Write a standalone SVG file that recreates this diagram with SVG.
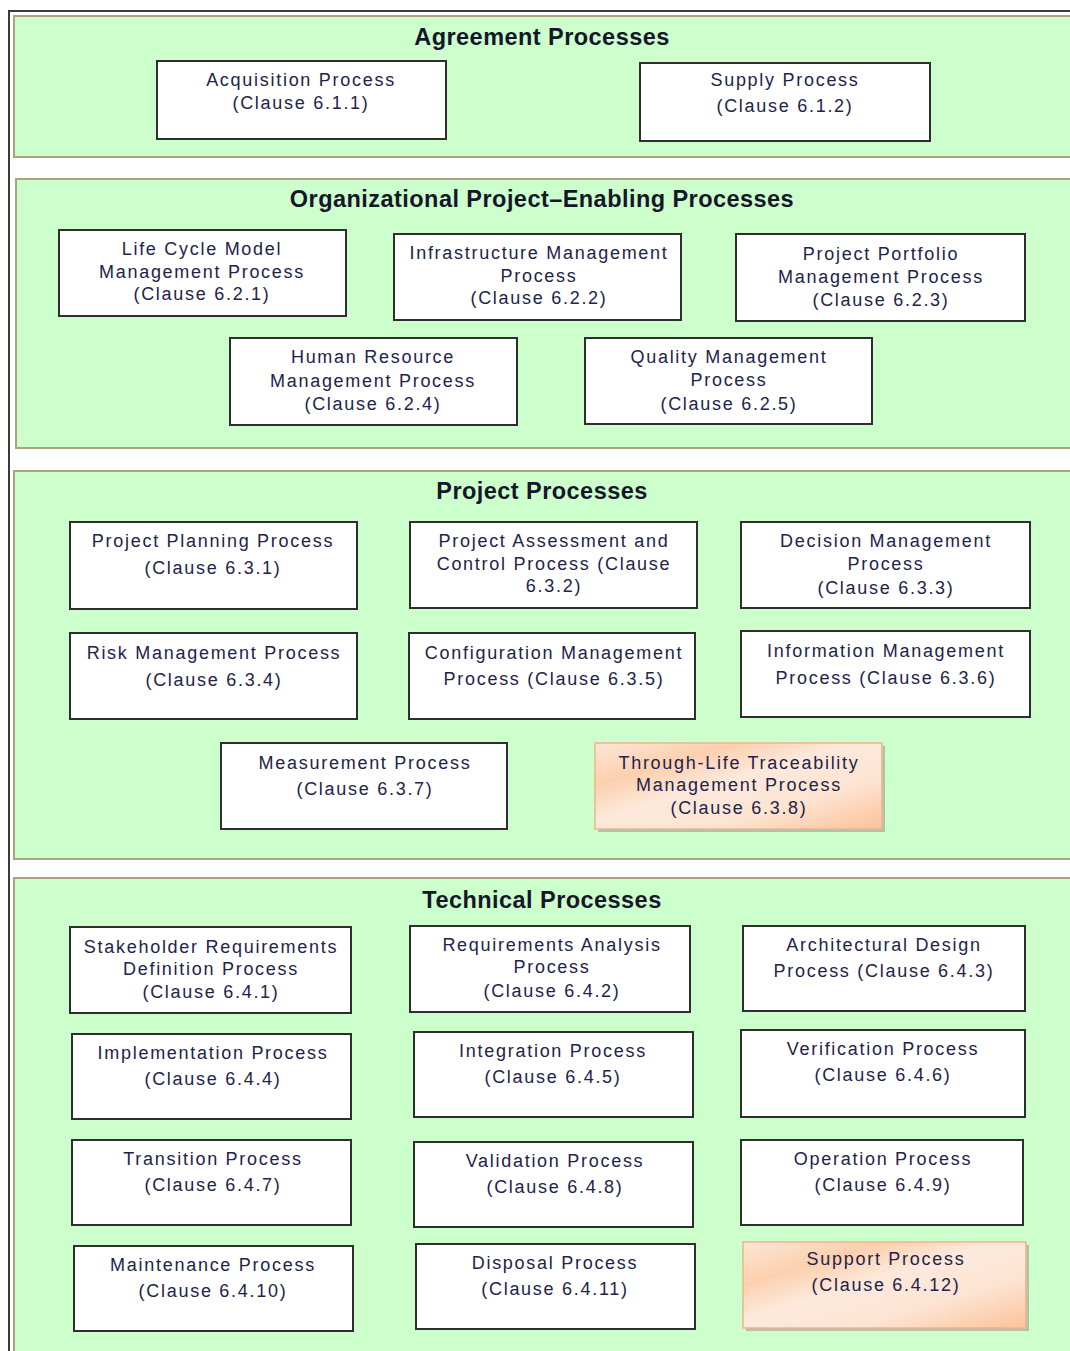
<svg xmlns="http://www.w3.org/2000/svg" width="1070" height="1351" viewBox="0 0 1070 1351">
<style>
.sec{fill:#ccffcc;stroke:#aea27c;stroke-width:2}
.box{fill:#ffffff;stroke:#2e2e2e;stroke-width:2}
.obox{fill:url(#og);stroke:#f2b487;stroke-width:1.5}
.sh{fill:#9a9a9a;opacity:0.6}
.h{font-family:"Liberation Sans",Arial,sans-serif;font-weight:bold;font-size:23.5px;fill:#16162a;text-anchor:middle;letter-spacing:0.45px}
.t{font-family:"Liberation Sans",Arial,sans-serif;font-size:18px;fill:#23234a;text-anchor:middle;letter-spacing:1.72px}
</style>
<defs>
<linearGradient id="og" x1="0" y1="0" x2="1" y2="1">
<stop offset="0" stop-color="#fde6d6"/>
<stop offset="0.25" stop-color="#fcd0ae"/>
<stop offset="0.45" stop-color="#fde9dc"/>
<stop offset="0.7" stop-color="#fde4d2"/>
<stop offset="1" stop-color="#fbc299"/>
</linearGradient>
</defs>
<rect width="1070" height="1351" fill="#ffffff"/>
<g id="frame">
<line x1="8" y1="11" x2="1070" y2="11" stroke="#3a3a3a" stroke-width="2"/>
<line x1="9" y1="10" x2="9" y2="1351" stroke="#3a3a3a" stroke-width="2"/>
</g>
<g id="sec-agreement">
<rect class="sec" x="14" y="16" width="1070" height="141"/>
<text class="h" x="542" y="45">Agreement Processes</text>
</g>
<g id="sec-org">
<rect class="sec" x="16" y="179" width="1070" height="269"/>
<text class="h" x="542" y="207">Organizational Project–Enabling Processes</text>
</g>
<g id="sec-project">
<rect class="sec" x="14" y="471" width="1070" height="388"/>
<text class="h" x="542" y="499">Project Processes</text>
</g>
<g id="sec-technical">
<rect class="sec" x="14" y="878" width="1070" height="490"/>
<text class="h" x="542" y="908">Technical Processes</text>
</g>

<g id="n611"><rect class="box" x="157" y="61" width="289" height="78"/><text class="t" x="301" y="86">Acquisition Process</text><text class="t" x="301" y="109">(Clause 6.1.1)</text></g>
<g id="n612"><rect class="box" x="640" y="63" width="290" height="78"/><text class="t" x="785" y="86">Supply Process</text><text class="t" x="785" y="112">(Clause 6.1.2)</text></g>

<g id="n621"><rect class="box" x="59" y="230" width="287" height="86"/><text class="t" x="202" y="255">Life Cycle Model</text><text class="t" x="202" y="278">Management Process</text><text class="t" x="202" y="300">(Clause 6.2.1)</text></g>
<g id="n622"><rect class="box" x="394" y="234" width="287" height="86"/><text class="t" x="539" y="259">Infrastructure Management</text><text class="t" x="539" y="282">Process</text><text class="t" x="539" y="304">(Clause 6.2.2)</text></g>
<g id="n623"><rect class="box" x="736" y="234" width="289" height="87"/><text class="t" x="881" y="260">Project Portfolio</text><text class="t" x="881" y="283">Management Process</text><text class="t" x="881" y="306">(Clause 6.2.3)</text></g>
<g id="n624"><rect class="box" x="230" y="338" width="287" height="87"/><text class="t" x="373" y="363">Human Resource</text><text class="t" x="373" y="387">Management Process</text><text class="t" x="373" y="410">(Clause 6.2.4)</text></g>
<g id="n625"><rect class="box" x="585" y="338" width="287" height="86"/><text class="t" x="729" y="363">Quality Management</text><text class="t" x="729" y="386">Process</text><text class="t" x="729" y="410">(Clause 6.2.5)</text></g>

<g id="n631"><rect class="box" x="70" y="522" width="287" height="87"/><text class="t" x="213" y="547">Project Planning Process</text><text class="t" x="213" y="574">(Clause 6.3.1)</text></g>
<g id="n632"><rect class="box" x="410" y="522" width="287" height="86"/><text class="t" x="554" y="547">Project Assessment and</text><text class="t" x="554" y="570">Control Process (Clause</text><text class="t" x="554" y="592">6.3.2)</text></g>
<g id="n633"><rect class="box" x="741" y="522" width="289" height="86"/><text class="t" x="886" y="547">Decision Management</text><text class="t" x="886" y="570">Process</text><text class="t" x="886" y="594">(Clause 6.3.3)</text></g>
<g id="n634"><rect class="box" x="70" y="633" width="287" height="86"/><text class="t" x="214" y="659">Risk Management Process</text><text class="t" x="214" y="686">(Clause 6.3.4)</text></g>
<g id="n635"><rect class="box" x="409" y="633" width="286" height="86"/><text class="t" x="554" y="659">Configuration Management</text><text class="t" x="554" y="685">Process (Clause 6.3.5)</text></g>
<g id="n636"><rect class="box" x="741" y="631" width="289" height="86"/><text class="t" x="886" y="657">Information Management</text><text class="t" x="886" y="684">Process (Clause 6.3.6)</text></g>
<g id="n637"><rect class="box" x="221" y="743" width="286" height="86"/><text class="t" x="365" y="769">Measurement Process</text><text class="t" x="365" y="795">(Clause 6.3.7)</text></g>
<g id="n638"><rect class="sh" x="598" y="746" width="287" height="86"/><rect class="obox" x="595" y="743" width="287" height="86"/><text class="t" x="739" y="769">Through-Life Traceability</text><text class="t" x="739" y="791">Management Process</text><text class="t" x="739" y="814">(Clause 6.3.8)</text></g>

<g id="n641"><rect class="box" x="70" y="927" width="281" height="86"/><text class="t" x="211" y="953">Stakeholder Requirements</text><text class="t" x="211" y="975">Definition Process</text><text class="t" x="211" y="998">(Clause 6.4.1)</text></g>
<g id="n642"><rect class="box" x="410" y="926" width="280" height="86"/><text class="t" x="552" y="951">Requirements Analysis</text><text class="t" x="552" y="973">Process</text><text class="t" x="552" y="997">(Clause 6.4.2)</text></g>
<g id="n643"><rect class="box" x="743" y="926" width="282" height="85"/><text class="t" x="884" y="951">Architectural Design</text><text class="t" x="884" y="977">Process (Clause 6.4.3)</text></g>
<g id="n644"><rect class="box" x="72" y="1034" width="279" height="85"/><text class="t" x="213" y="1059">Implementation Process</text><text class="t" x="213" y="1085">(Clause 6.4.4)</text></g>
<g id="n645"><rect class="box" x="414" y="1032" width="279" height="85"/><text class="t" x="553" y="1057">Integration Process</text><text class="t" x="553" y="1083">(Clause 6.4.5)</text></g>
<g id="n646"><rect class="box" x="741" y="1030" width="284" height="87"/><text class="t" x="883" y="1055">Verification Process</text><text class="t" x="883" y="1081">(Clause 6.4.6)</text></g>
<g id="n647"><rect class="box" x="72" y="1140" width="279" height="85"/><text class="t" x="213" y="1165">Transition Process</text><text class="t" x="213" y="1191">(Clause 6.4.7)</text></g>
<g id="n648"><rect class="box" x="414" y="1142" width="279" height="85"/><text class="t" x="555" y="1167">Validation Process</text><text class="t" x="555" y="1193">(Clause 6.4.8)</text></g>
<g id="n649"><rect class="box" x="741" y="1140" width="282" height="85"/><text class="t" x="883" y="1165">Operation Process</text><text class="t" x="883" y="1191">(Clause 6.4.9)</text></g>
<g id="n6410"><rect class="box" x="74" y="1246" width="279" height="85"/><text class="t" x="213" y="1271">Maintenance Process</text><text class="t" x="213" y="1297">(Clause 6.4.10)</text></g>
<g id="n6411"><rect class="box" x="416" y="1244" width="279" height="85"/><text class="t" x="555" y="1269">Disposal Process</text><text class="t" x="555" y="1295">(Clause 6.4.11)</text></g>
<g id="n6412"><rect class="sh" x="746" y="1245" width="283" height="86"/><rect class="obox" x="743" y="1242" width="283" height="86"/><text class="t" x="886" y="1265">Support Process</text><text class="t" x="886" y="1291">(Clause 6.4.12)</text></g>
<g id="connectors"/>
</svg>
